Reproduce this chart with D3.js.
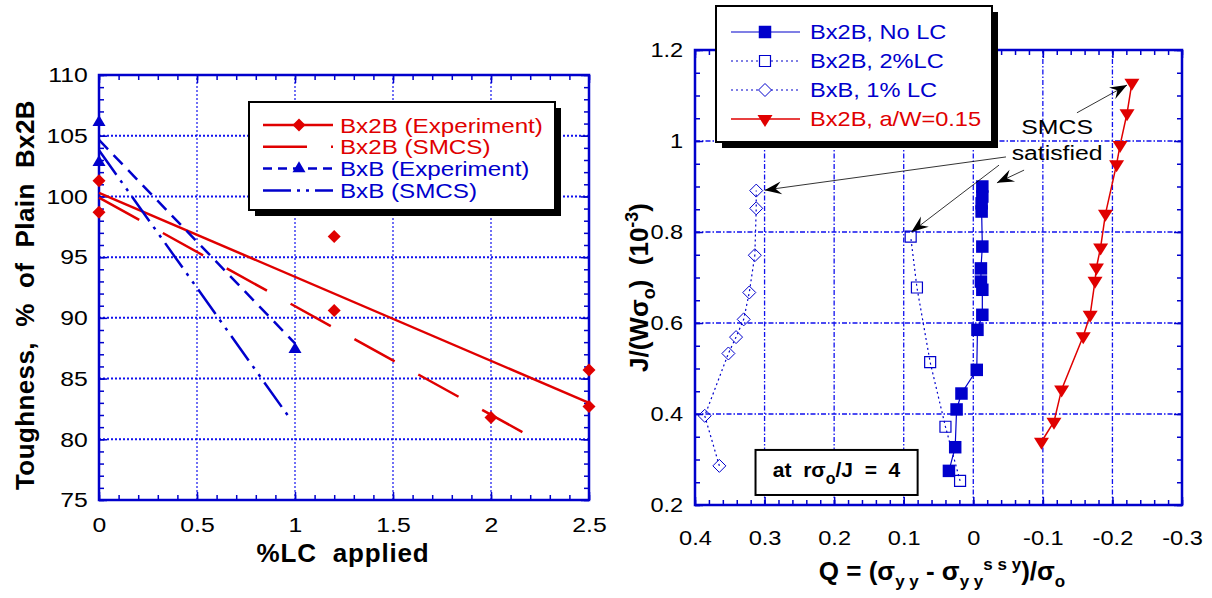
<!DOCTYPE html>
<html>
<head>
<meta charset="utf-8">
<script src="https://cdn.jsdelivr.net/npm/d3@7"></script>
<style>
body { margin: 0; background: #fff; }
text { white-space: pre; }
</style>
</head>
<body>
<svg id="chart" width="1212" height="598"></svg>
<script>
// ---------- left chart: toughness vs %LC ----------
const lcBx2B = [0, 0, 1.2, 1.2, 2, 2.5, 2.5];
const toughBx2B = [101.3, 98.7, 96.7, 90.6, 81.8, 85.7, 82.7];
const lcBxB = [0, 0, 1];
const toughBxB = [106.1, 102.8, 87.4];
const fitBx2B_x = [0, 2.5], fitBx2B_y = [100.3, 83.0];
const smcsBx2B_x = [0, 2.17], smcsBx2B_y = [99.9, 80.5];
const fitBxB_x = [0, 1], fitBxB_y = [104.65, 87.9];
const smcsBxB_x = [0, 0.975], smcsBxB_y = [103.8, 81.7];
const legendLeft = ["Bx2B (Experiment)", "Bx2B (SMCS)", "BxB (Experiment)", "BxB (SMCS)"];
const xTicksL = [0, 0.5, 1, 1.5, 2, 2.5];
const yTicksL = [75, 80, 85, 90, 95, 100, 105, 110];

// ---------- right chart: J vs Q ----------
const qNoLC = [0.035, 0.026, 0.024, 0.017, -0.005, -0.006, -0.013, -0.013, -0.011, -0.011, -0.013, -0.012, -0.012, -0.013, -0.013];
const jNoLC = [0.275, 0.327, 0.410, 0.445, 0.497, 0.585, 0.618, 0.673, 0.691, 0.720, 0.768, 0.845, 0.863, 0.878, 0.900];
const q2LC = [0.019, 0.040, 0.062, 0.081, 0.090];
const j2LC = [0.253, 0.372, 0.514, 0.678, 0.790];
const q1LC = [0.365, 0.386, 0.352, 0.341, 0.330, 0.322, 0.314, 0.312, 0.312];
const j1LC = [0.286, 0.396, 0.533, 0.569, 0.608, 0.667, 0.749, 0.852, 0.891];
const qAW = [-0.098, -0.116, -0.127, -0.158, -0.168, -0.175, -0.177, -0.183, -0.190, -0.206, -0.211, -0.221, -0.228];
const jAW = [0.339, 0.383, 0.454, 0.571, 0.618, 0.693, 0.722, 0.766, 0.840, 0.949, 0.991, 1.061, 1.128];
const legendRight = ["Bx2B, No LC", "Bx2B, 2%LC", "BxB, 1% LC", "Bx2B, a/W=0.15"];
const xTicksR = [0.4, 0.3, 0.2, 0.1, 0, -0.1, -0.2, -0.3];
const yTicksR = [0.2, 0.4, 0.6, 0.8, 1, 1.2];
// arrows [q1, j1, q2, j2] for "SMCS satisfied"
const arrowsR = [[-0.047, 0.965, 0.300, 0.892], [-0.037, 0.947, 0.089, 0.800],
                 [-0.073, 0.936, -0.034, 0.908], [-0.149, 1.062, -0.221, 1.123]];

const RED = "#e00000", BLUE = "#0000cc", GRID = "#1111ee";
const SANS = "'Liberation Sans', Arial, sans-serif";
const SX = 1.18; // regular text in the picture is drawn wide
const zip = (a, b) => a.map((v, i) => [v, b[i]]);

const svg = d3.select("#chart");

// wide regular text
function wide(g, x, y, str, size, color, anchor) {
  return g.append("text").attr("transform", `translate(${x},${y}) scale(${SX},1)`)
    .attr("font-family", SANS).attr("font-size", size).attr("fill", color || "#000")
    .attr("text-anchor", anchor || "start").text(str);
}

// marker shapes
const diamond = r => `M0,${-r}L${r},0L0,${r}L${-r},0Z`;
const triUp = (w, h) => `M0,${-2 * h / 3}L${w / 2},${h / 3}L${-w / 2},${h / 3}Z`;
const triDown = (w, h) => `M0,${2 * h / 3}L${w / 2},${-h / 3}L${-w / 2},${-h / 3}Z`;
const square = s => `M${-s / 2},${-s / 2}h${s}v${s}h${-s}Z`;

function frame(g, x, y, c) {
  const [xa, xb] = x.range(), [ya, yb] = y.range();
  // grid
  g.selectAll(".gx").data(c.gridX).enter().append("line")
    .attr("x1", d => x(d)).attr("x2", d => x(d)).attr("y1", ya).attr("y2", yb)
    .attr("stroke", GRID).attr("stroke-width", c.gwX).attr("stroke-dasharray", c.dash);
  g.selectAll(".gy").data(c.gridY).enter().append("line")
    .attr("x1", xa).attr("x2", xb).attr("y1", d => y(d)).attr("y2", d => y(d))
    .attr("stroke", GRID).attr("stroke-width", c.gwY).attr("stroke-dasharray", c.dash);

  const style = a => {
    a.select(".domain").remove();
    a.selectAll(".tick line").attr("stroke", BLUE).attr("stroke-width", 1.5);
    a.attr("font-family", SANS).attr("font-size", c.fs);
    a.selectAll(".tick text").attr("fill", "#000").attr("transform", `scale(${SX},1)`);
  };
  g.append("g").attr("transform", `translate(0,${ya})`)
    .call(d3.axisBottom(x).tickValues(c.xMajor).tickSize(-8).tickPadding(c.xPad).tickFormat(c.fmt)).call(style);
  g.append("g").attr("transform", `translate(0,${yb})`)
    .call(d3.axisTop(x).tickValues(c.xMajor).tickSize(-8).tickFormat("")).call(style);
  g.append("g").attr("transform", `translate(${xa},0)`)
    .call(d3.axisLeft(y).tickValues(c.yMajor).tickSize(-8).tickPadding(c.yPad).tickFormat(c.fmt)).call(style);
  g.append("g").attr("transform", `translate(${xb},0)`)
    .call(d3.axisRight(y).tickValues(c.yMajor).tickSize(-8).tickFormat("")).call(style);
  [[d3.axisBottom, ya], [d3.axisTop, yb]].forEach(([ax, p]) =>
    g.append("g").attr("transform", `translate(0,${p})`)
      .call(ax(x).tickValues(c.xMinor).tickSize(-5).tickFormat("")).call(style));
  [[d3.axisLeft, xa], [d3.axisRight, xb]].forEach(([ax, p]) =>
    g.append("g").attr("transform", `translate(${p},0)`)
      .call(ax(y).tickValues(c.yMinor).tickSize(-5).tickFormat("")).call(style));

  g.append("rect").attr("x", Math.min(xa, xb)).attr("y", yb)
    .attr("width", Math.abs(xb - xa)).attr("height", ya - yb)
    .attr("fill", "none").attr("stroke", BLUE).attr("stroke-width", 2.5);
}

const fmt = d => String(+d.toFixed(2));

// ================= LEFT =================
const xL = d3.scaleLinear().domain([0, 2.5]).range([99, 589]);
const yL = d3.scaleLinear().domain([75, 110]).range([500, 75]);
const gL = svg.append("g");
frame(gL, xL, yL, {
  gridX: [0.5, 1, 1.5, 2], gridY: [80, 85, 90, 95, 100, 105], gwX: 1.2, gwY: 2, dash: "2,2",
  xMajor: xTicksL, yMajor: yTicksL,
  xMinor: d3.range(0, 2.51, 0.1), yMinor: d3.range(75, 110.1, 1),
  xPad: 17, yPad: 9.5, fs: 21, fmt: fmt
});

const lineL = d3.line().x(d => xL(d[0])).y(d => yL(d[1]));
const linesL = [
  { d: zip(fitBx2B_x, fitBx2B_y), c: RED, dash: null },
  { d: zip(smcsBx2B_x, smcsBx2B_y), c: RED, dash: "46,27" },
  { d: zip(fitBxB_x, fitBxB_y), c: BLUE, dash: "13,8" },
  { d: zip(smcsBxB_x, smcsBxB_y), c: BLUE, dash: "30,7,3,7,3,7" }
];
linesL.forEach(s => gL.append("path").datum(s.d).attr("d", lineL)
  .attr("fill", "none").attr("stroke", s.c).attr("stroke-width", 2.5).attr("stroke-dasharray", s.dash));

gL.selectAll(".dia").data(zip(lcBx2B, toughBx2B)).enter().append("path")
  .attr("transform", d => `translate(${xL(d[0])},${yL(d[1])})`)
  .attr("d", diamond(6.5)).attr("fill", RED);
gL.selectAll(".tri").data(zip(lcBxB, toughBxB)).enter().append("path")
  .attr("transform", d => `translate(${xL(d[0])},${yL(d[1])})`)
  .attr("d", triUp(13, 11)).attr("fill", BLUE);

// left legend
const lgL = svg.append("g");
lgL.append("rect").attr("x", 255).attr("y", 108).attr("width", 306).attr("height", 108).attr("fill", "#000");
lgL.append("rect").attr("x", 249).attr("y", 102).attr("width", 306).attr("height", 108)
  .attr("fill", "#fff").attr("stroke", "#000").attr("stroke-width", 2);
const legStyleL = [
  { c: RED, dash: null, m: diamond(6.5) },
  { c: RED, dash: "44,24", m: null },
  { c: BLUE, dash: "9,6", m: triUp(13, 11) },
  { c: BLUE, dash: "28,6,3,6,3,6", m: null }
];
legendLeft.forEach((name, i) => {
  const y = 125 + i * 21.8, s = legStyleL[i];
  lgL.append("line").attr("x1", 263).attr("x2", 333).attr("y1", y).attr("y2", y)
    .attr("stroke", s.c).attr("stroke-width", 2.5).attr("stroke-dasharray", s.dash);
  if (s.m) lgL.append("path").attr("transform", `translate(299,${y})`).attr("d", s.m).attr("fill", s.c);
  wide(lgL, 340, y + 7.5, name, 20.5, s.c);
});

svg.append("text").attr("transform", "translate(34,295) rotate(-90)")
  .attr("text-anchor", "middle").attr("font-family", SANS).attr("font-weight", "bold")
  .attr("font-size", 26).attr("letter-spacing", 0.4).text("Toughness,  %  of  Plain  Bx2B");
svg.append("text").attr("x", 343).attr("y", 562).attr("text-anchor", "middle")
  .attr("font-family", SANS).attr("font-weight", "bold").attr("font-size", 26)
  .attr("letter-spacing", 0.8).text("%LC  applied");

// ================= RIGHT =================
const xR = d3.scaleLinear().domain([0.4, -0.3]).range([695, 1182]);
const yR = d3.scaleLinear().domain([0.2, 1.2]).range([505, 50]);
const gR = svg.append("g");
frame(gR, xR, yR, {
  gridX: [0.3, 0.2, 0.1, 0, -0.1, -0.2], gridY: [0.4, 0.6, 0.8, 1], gwX: 1.3, gwY: 1.6, dash: "5,2,1.5,2",
  xMajor: xTicksR, yMajor: yTicksR,
  xMinor: d3.range(-0.3, 0.401, 0.02), yMinor: d3.range(0.2, 1.201, 0.05),
  xPad: 26, yPad: 10, fs: 20, fmt: fmt
});

const lineR = d3.line().x(d => xR(d[0])).y(d => yR(d[1]));
const seriesR = [
  { d: zip(qNoLC, jNoLC), c: BLUE, w: 1.2, dash: null, m: square(12.5), fill: BLUE, sw: 0 },
  { d: zip(q2LC, j2LC), c: BLUE, w: 1.2, dash: "2,3", m: square(11), fill: "none", sw: 1.2 },
  { d: zip(q1LC, j1LC), c: BLUE, w: 1.2, dash: "2,3", m: diamond(6.5), fill: "none", sw: 1 },
  { d: zip(qAW, jAW), c: RED, w: 1.5, dash: null, m: triDown(15, 12), fill: RED, sw: 0 }
];
seriesR.forEach(s => {
  gR.append("path").datum(s.d).attr("d", lineR).attr("fill", "none")
    .attr("stroke", s.c).attr("stroke-width", s.w).attr("stroke-dasharray", s.dash);
  gR.append("g").selectAll("path").data(s.d).enter().append("path")
    .attr("transform", d => `translate(${xR(d[0])},${yR(d[1])})`)
    .attr("d", s.m).attr("fill", s.fill).attr("stroke", s.sw ? s.c : "none").attr("stroke-width", s.sw);
});

// annotations
arrowsR.forEach(a => {
  const x1 = xR(a[0]), y1 = yR(a[1]), x2 = xR(a[2]), y2 = yR(a[3]);
  const ang = Math.atan2(y2 - y1, x2 - x1) * 180 / Math.PI;
  gR.append("line").attr("x1", x1).attr("y1", y1).attr("x2", x2).attr("y2", y2)
    .attr("stroke", "#000").attr("stroke-width", 0.8);
  gR.append("path").attr("transform", `translate(${x2},${y2}) rotate(${ang})`)
    .attr("d", "M0,0L-17,-6.5L-11,0L-17,6.5Z").attr("fill", "#000");
});
wide(gR, xR(-0.1205), yR(1.015), "SMCS", 21, "#000", "middle");
wide(gR, xR(-0.1205), yR(0.958), "satisfied", 21, "#000", "middle");

// "at r sigma_o / J = 4" box
const bx1 = xR(0.313), bx2 = xR(0.080), by1 = yR(0.321), by2 = yR(0.222);
gR.append("rect").attr("x", bx1).attr("y", by1).attr("width", bx2 - bx1).attr("height", by2 - by1)
  .attr("fill", "#fff").attr("stroke", "#000").attr("stroke-width", 2);
const at = gR.append("text").attr("x", (bx1 + bx2) / 2).attr("y", by1 + 27).attr("text-anchor", "middle")
  .attr("font-family", SANS).attr("font-weight", "bold").attr("font-size", 21);
at.append("tspan").text("at  rσ");
at.append("tspan").attr("dy", 7).attr("font-size", 16).text("o");
at.append("tspan").attr("dy", -7).text("/J  =  4");

// right legend
const lgR = svg.append("g");
lgR.append("rect").attr("x", 722).attr("y", 12).attr("width", 276).attr("height", 136).attr("fill", "#000");
lgR.append("rect").attr("x", 716).attr("y", 6).attr("width", 276).attr("height", 136)
  .attr("fill", "#fff").attr("stroke", "#000").attr("stroke-width", 2);
legendRight.forEach((name, i) => {
  const y = 32 + i * 29, s = seriesR[i];
  lgR.append("line").attr("x1", 731).attr("x2", 800).attr("y1", y).attr("y2", y)
    .attr("stroke", s.c).attr("stroke-width", s.w).attr("stroke-dasharray", s.dash);
  lgR.append("path").attr("transform", `translate(765,${y})`).attr("d", s.m)
    .attr("fill", s.fill === "none" ? "#fff" : s.fill).attr("stroke", s.sw ? s.c : "none").attr("stroke-width", s.sw);
  wide(lgR, 810, y + 7, name, 20, i === 3 ? RED : BLUE);
});

// axis titles
const jt = svg.append("text").attr("transform", "translate(648,372) rotate(-90)")
  .attr("font-family", SANS).attr("font-weight", "bold").attr("font-size", 26);
jt.append("tspan").text("J/(Wσ");
jt.append("tspan").attr("dy", 7).attr("font-size", 18).text("o");
jt.append("tspan").attr("dy", -7).text(")  (10");
jt.append("tspan").attr("dy", -10).attr("font-size", 18).text("-3");
jt.append("tspan").attr("dy", 10).text(")");

const qt = svg.append("text").attr("x", 942).attr("y", 580).attr("text-anchor", "middle")
  .attr("font-family", SANS).attr("font-weight", "bold").attr("font-size", 26);
qt.append("tspan").text("Q = (σ");
qt.append("tspan").attr("dy", 7).attr("font-size", 17).text("y y");
qt.append("tspan").attr("dy", -7).text(" - σ");
qt.append("tspan").attr("dy", 7).attr("font-size", 17).text("y y");
qt.append("tspan").attr("dy", -17).attr("font-size", 17).text("s s y");
qt.append("tspan").attr("dy", 10).text(")/σ");
qt.append("tspan").attr("dy", 7).attr("font-size", 17).text("o");
</script>
</body>
</html>
